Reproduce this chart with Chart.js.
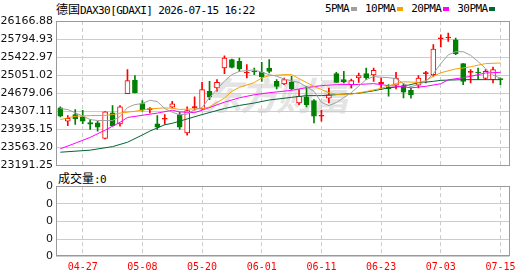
<!DOCTYPE html>
<html>
<head>
<meta charset="utf-8">
<script src="https://cdn.jsdelivr.net/npm/chart.js@4.4.0/dist/chart.umd.min.js"></script>
<style>
    body{
        margin:0;
        width:530px;
        height:276px;
        background:#fff;
        position:relative;
        overflow:hidden;
        font-family:'DejaVu Sans Mono','Noto Sans CJK SC',monospace;
    }
    .cjk{ font-family:'Noto Sans CJK SC'; font-size:12px; letter-spacing:0; }
    #titulo{ position:absolute; left:56px; top:2px; font-size:11px; letter-spacing:-0.6px; line-height:13px; color:#000; white-space:nowrap; }
    #legenda{ position:absolute; left:325px; top:2px; font-size:11px; letter-spacing:-0.6px; line-height:13px; color:#000; display:flex; align-items:center; white-space:nowrap; }
    #legenda i{ display:inline-block; width:6px; height:4px; margin-left:2px; margin-right:8px; }
    #marca{ position:absolute; left:204px; top:66px; font:italic bold 38px 'Noto Sans CJK SC'; color:#e4e4e4; letter-spacing:-2px; }
    #volTexto{ position:absolute; left:58px; top:171px; font-size:11px; letter-spacing:-0.6px; line-height:13px; color:#000; }
    canvas{ position:absolute; left:0; }
    #chartPrincipal{ top:0; }
    #chartVolume{ top:170px; }
</style>
</head>
<body>
<div id="marca">东方财富</div>
<div id="titulo"><span class="cjk">德国</span>DAX30[GDAXI] 2026-07-15 16:22</div>
<div id="legenda"></div>
<div id="volTexto"><span class="cjk">成交量</span>:0</div>
<canvas id="chartPrincipal" width="530" height="180"></canvas>
<canvas id="chartVolume" width="530" height="106"></canvas>
<script>
// datas do eixo x e em qual candle cada uma cai
const datas = ['04-27', '05-08', '05-20', '06-01', '06-11', '06-23', '07-03', '07-15'];
const posDatas = [3, 11, 19, 27, 35, 43, 51, 59];

// ticks do eixo de preço
const ticksPreco = [23191.25, 23563.20, 23935.15, 24307.11, 24679.06, 25051.02, 25422.97, 25794.93, 26166.88];
const rotulosVolume = ['0', '0', '0', '0', '0'];

// candles
const abertura = [24377, 24103, 24240, 24192, 24076, 24069, 23747, 24274, 24048, 24672,
    24952, 24466, 24343, 24048, 24144, 24391, 24240, 23863, 24384, 24356,
    24720, 24788, 25199, 25370, 25336, 25096, 25131, 25110, 25199, 24925,
    24870, 24911, 24480, 24603, 24528, 24206, 24576, 25083, 24959, 24857,
    24994, 25083, 25055, 24877, 24802, 24843, 24836, 24740, 24843, 25083,
    25062, 25802, 25816, 25781, 25288, 25110, 25110, 24987, 24959, 24973];
const maxima = [24398, 24219, 24343, 24329, 24137, 24103, 24300, 24425, 24425, 25165,
    25041, 24528, 24384, 24219, 24240, 24514, 24288, 24398, 24603, 24904,
    24925, 24959, 25452, 25384, 25405, 25267, 25199, 25315, 25370, 24959,
    24994, 25028, 24754, 24822, 24548, 24329, 24788, 25110, 25131, 24973,
    25096, 25199, 25199, 24994, 24857, 25110, 24877, 24788, 25041, 25131,
    25679, 25884, 25918, 25816, 25288, 25165, 25199, 25165, 25220, 24994];
const minima = [24192, 24014, 24035, 24055, 23932, 23898, 23740, 24000, 24000, 24672,
    24685, 24309, 24274, 23932, 24035, 24377, 23932, 23815, 24329, 24343,
    24548, 24720, 25083, 25199, 25131, 24994, 25062, 24925, 25096, 24767,
    24857, 24754, 24446, 24398, 24069, 24103, 24480, 24904, 24891, 24788,
    24904, 24959, 24925, 24754, 24617, 24767, 24583, 24576, 24788, 24891,
    25028, 25631, 25747, 25473, 24857, 24891, 24959, 24959, 24891, 24857];
const fechamento = [24206, 24165, 24151, 24103, 24041, 23980, 24295, 24014, 24398, 24939,
    24685, 24343, 24356, 23980, 24158, 24459, 23980, 24322, 24398, 24754,
    24596, 24904, 25405, 25213, 25178, 25110, 25117, 25014, 25131, 24822,
    24959, 24774, 24617, 24446, 24206, 24219, 24644, 24904, 24918, 24939,
    25041, 24994, 25151, 24904, 24774, 24994, 24699, 24644, 24994, 25096,
    25589, 25816, 25829, 25487, 24925, 25124, 25096, 25131, 25165, 24959];

// medias moveis [candle, valor]
const media5 = [[0, 24363], [1, 24343], [3, 24210], [4, 24137], [5, 24117], [7, 24117], [8, 24199], [9, 24384],
    [10, 24446], [11, 24466], [12, 24534], [13, 24507], [14, 24363], [15, 24290], [16, 24235], [17, 24250],
    [18, 24343], [19, 24384], [20, 24590], [22, 24930], [23, 25062], [24, 25130], [26, 25160], [27, 25110],
    [28, 25062], [29, 25030], [30, 24970], [32, 24900], [34, 24720], [35, 24490], [36, 24425], [37, 24487],
    [38, 24589], [39, 24690], [41, 24960], [42, 25021], [44, 25000], [45, 24980], [46, 24880], [47, 24815],
    [48, 24856], [49, 24930], [50, 25080], [51, 25290], [52, 25470], [53, 25535], [54, 25535], [55, 25460],
    [56, 25330], [57, 25190], [58, 25050], [59, 24990]];
const media10 = [[0, 24137], [1, 24172], [2, 24205], [4, 24219], [6, 24222], [7, 24240], [8, 24270], [10, 24308],
    [12, 24357], [14, 24378], [15, 24370], [16, 24345], [18, 24357], [19, 24357], [20, 24398], [22, 24580],
    [23, 24719], [24, 24800], [26, 24900], [27, 24994], [28, 25040], [30, 25062], [31, 25062], [32, 24980],
    [33, 24900], [34, 24820], [36, 24690], [37, 24655], [39, 24660], [41, 24715], [43, 24780], [44, 24830],
    [45, 24880], [46, 24915], [48, 24904], [49, 24935], [50, 25030], [51, 25100], [53, 25180], [54, 25199],
    [55, 25225], [57, 25290], [59, 25302]];
const media20 = [[0, 23535], [2, 23650], [4, 23770], [6, 23920], [8, 24080], [9, 24180], [11, 24225], [13, 24270],
    [14, 24300], [15, 24330], [16, 24295], [18, 24280], [19, 24330], [22, 24495], [24, 24585], [26, 24648],
    [28, 24690], [31, 24739], [33, 24795], [35, 24836], [37, 24856], [40, 24860], [42, 24877], [44, 24836],
    [46, 24815], [47, 24789], [49, 24822], [51, 24875], [52, 24955], [54, 25000], [55, 25027], [57, 25097],
    [59, 25109]];
const media30 = [[0, 23465], [4, 23507], [7, 23580], [9, 23670], [11, 23820], [12, 23900], [14, 24030], [15, 24060],
    [17, 24150], [19, 24240], [22, 24365], [24, 24428], [26, 24478], [28, 24540], [31, 24595], [33, 24630],
    [35, 24630], [37, 24651], [40, 24680], [42, 24730], [44, 24790], [46, 24822], [48, 24895], [50, 24924],
    [51, 24945], [54, 24959], [59, 24959]];

const nomesMedias = ['5PMA', '10PMA', '20PMA', '30PMA'];
const coresMedias = ['#a0a0a0', '#f5a300', '#ff00ff', '#006633'];
const VERMELHO = '#ff0000';
const VERDE = '#008000';

const xMin = -0.58;
const xMax = 60.21;

function subiu(i){
    return fechamento[i] >= abertura[i];
}

function corCorpo(ctx){
    let i = ctx.dataIndex;
    if(i === undefined) return '#fff';
    if(subiu(i)){
        // doji fica preenchido
        return Math.abs(fechamento[i] - abertura[i]) < 30 ? VERMELHO : '#ffffff';
    }
    return VERDE;
}

function corBorda(ctx){
    let i = ctx.dataIndex;
    if(i === undefined) return VERMELHO;
    return subiu(i) ? VERMELHO : VERDE;
}

// moldura cinza em volta da area do grafico
const moldura = {
    id: 'moldura',
    afterDraw(chart){
        const {ctx, chartArea} = chart;
        ctx.save();
        ctx.strokeStyle = '#9a9a9a';
        ctx.lineWidth = 1;
        ctx.strokeRect(Math.round(chartArea.left) + 0.5, Math.round(chartArea.top) + 0.5,
            Math.round(chartArea.right - chartArea.left) - 1, Math.round(chartArea.bottom - chartArea.top) - 1);
        ctx.restore();
    }
};

function montarLegenda(){
    let legenda = document.getElementById('legenda');
    nomesMedias.forEach((nome, k) => {
        let txt = document.createElement('span');
        txt.innerText = nome;
        let quadrado = document.createElement('i');
        quadrado.style.background = coresMedias[k];
        legenda.appendChild(txt);
        legenda.appendChild(quadrado);
    });
}

const fonteEixo = { family: 'DejaVu Sans', size: 11 };

function carregarGraficoPrincipal(){
    const ctx = document.getElementById('chartPrincipal');

    let datasetsMedias = [media5, media10, media20, media30].map((m, k) => ({
        type: 'line',
        label: nomesMedias[k],
        data: m.map(p => ({x: p[0], y: p[1]})),
        borderColor: coresMedias[k],
        borderWidth: 1,
        pointRadius: 0,
        tension: 0,
        order: 1
    }));

    new Chart(ctx, {
        type: 'bar',
        data: {
            datasets: [
                {
                    label: 'sombra',
                    data: abertura.map((a, i) => ({x: i, y: [minima[i], maxima[i]]})),
                    backgroundColor: corBorda,
                    borderWidth: 0,
                    barThickness: 1,
                    grouped: false,
                    order: 3
                },
                {
                    label: 'corpo',
                    data: abertura.map((a, i) => ({x: i, y: [a, fechamento[i]]})),
                    backgroundColor: corCorpo,
                    borderColor: corBorda,
                    borderWidth: 1,
                    borderSkipped: false,
                    barThickness: 5,
                    minBarLength: 1,
                    grouped: false,
                    order: 2
                },
                ...datasetsMedias
            ]
        },
        options: {
            responsive: false,
            animation: false,
            layout: {
                padding: {left: 0, right: 20.5, top: 21, bottom: 14.5}
            },
            plugins: {
                legend: {display: false},
                tooltip: {enabled: false}
            },
            scales: {
                x: {
                    type: 'linear',
                    min: xMin,
                    max: xMax,
                    offset: false,
                    afterBuildTicks: (scale) => {
                        scale.ticks = posDatas.map(v => ({value: v}));
                    },
                    afterFit: (scale) => { scale.height = 0; },
                    ticks: {display: false},
                    grid: {color: '#cccccc', drawTicks: false, offset: false},
                    border: {display: false, dash: [4, 3]}
                },
                y: {
                    min: ticksPreco[0],
                    max: ticksPreco[ticksPreco.length - 1],
                    afterBuildTicks: (scale) => {
                        scale.ticks = ticksPreco.map(v => ({value: v}));
                    },
                    afterFit: (scale) => { scale.width = 56; },
                    ticks: {
                        padding: 3,
                        color: '#111',
                        font: fonteEixo,
                        callback: (v) => Number(v).toFixed(2)
                    },
                    grid: {color: '#cccccc', drawTicks: false},
                    border: {display: false}
                }
            }
        },
        plugins: [moldura]
    });
}

function carregarGraficoVolume(){
    const ctx = document.getElementById('chartVolume');

    new Chart(ctx, {
        type: 'bar',
        data: {
            datasets: []
        },
        options: {
            responsive: false,
            animation: false,
            layout: {
                padding: {left: 0, right: 20.5, top: 16.2, bottom: 0}
            },
            plugins: {
                legend: {display: false},
                tooltip: {enabled: false}
            },
            scales: {
                x: {
                    type: 'linear',
                    min: xMin,
                    max: xMax,
                    offset: false,
                    afterBuildTicks: (scale) => {
                        scale.ticks = posDatas.map(v => ({value: v}));
                    },
                    afterFit: (scale) => { scale.height = 19.4; },
                    ticks: {
                        padding: 5,
                        color: VERMELHO,
                        maxRotation: 0,
                        autoSkip: false,
                        font: {family: 'DejaVu Sans Mono', size: 10},
                        callback: (v) => datas[posDatas.indexOf(v)]
                    },
                    grid: {color: '#cccccc', drawTicks: false, offset: false},
                    border: {display: false, dash: [4, 3]}
                },
                y: {
                    min: 0,
                    max: 4,
                    afterBuildTicks: (scale) => {
                        scale.ticks = rotulosVolume.map((r, k) => ({value: k}));
                    },
                    afterFit: (scale) => { scale.width = 56; },
                    ticks: {
                        padding: 3,
                        color: '#111',
                        font: fonteEixo,
                        callback: (v, idx) => rotulosVolume[idx]
                    },
                    grid: {color: '#cccccc', drawTicks: false},
                    border: {display: false}
                }
            }
        },
        plugins: [moldura]
    });
}

montarLegenda();
carregarGraficoPrincipal();
carregarGraficoVolume();
</script>
</body>
</html>
